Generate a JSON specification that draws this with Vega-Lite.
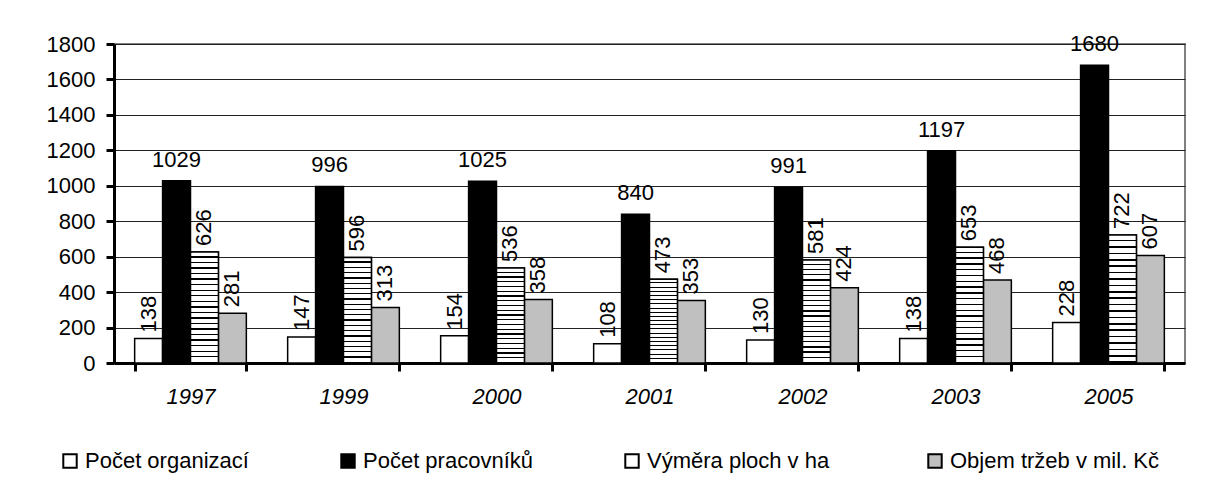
{
  "$schema": "https://vega.github.io/schema/vega-lite/v6.json",
  "width": 1071,
  "height": 319,
  "autosize": {"type": "none"},
  "padding": {"left": 114, "top": 44, "right": 28, "bottom": 140},
  "background": "white",
  "config": {
    "font": "Liberation Sans",
    "view": {"stroke": "#808080", "strokeWidth": 2}
  },
  "data": {
    "values": [
      {"year": "1997", "series": "Počet organizací", "value": 138},
      {"year": "1997", "series": "Počet pracovníků", "value": 1029},
      {"year": "1997", "series": "Výměra ploch  v ha", "value": 626},
      {"year": "1997", "series": "Objem tržeb v mil. Kč", "value": 281},
      {"year": "1999", "series": "Počet organizací", "value": 147},
      {"year": "1999", "series": "Počet pracovníků", "value": 996},
      {"year": "1999", "series": "Výměra ploch  v ha", "value": 596},
      {"year": "1999", "series": "Objem tržeb v mil. Kč", "value": 313},
      {"year": "2000", "series": "Počet organizací", "value": 154},
      {"year": "2000", "series": "Počet pracovníků", "value": 1025},
      {"year": "2000", "series": "Výměra ploch  v ha", "value": 536},
      {"year": "2000", "series": "Objem tržeb v mil. Kč", "value": 358},
      {"year": "2001", "series": "Počet organizací", "value": 108},
      {"year": "2001", "series": "Počet pracovníků", "value": 840},
      {"year": "2001", "series": "Výměra ploch  v ha", "value": 473},
      {"year": "2001", "series": "Objem tržeb v mil. Kč", "value": 353},
      {"year": "2002", "series": "Počet organizací", "value": 130},
      {"year": "2002", "series": "Počet pracovníků", "value": 991},
      {"year": "2002", "series": "Výměra ploch  v ha", "value": 581},
      {"year": "2002", "series": "Objem tržeb v mil. Kč", "value": 424},
      {"year": "2003", "series": "Počet organizací", "value": 138},
      {"year": "2003", "series": "Počet pracovníků", "value": 1197},
      {"year": "2003", "series": "Výměra ploch  v ha", "value": 653},
      {"year": "2003", "series": "Objem tržeb v mil. Kč", "value": 468},
      {"year": "2005", "series": "Počet organizací", "value": 228},
      {"year": "2005", "series": "Počet pracovníků", "value": 1680},
      {"year": "2005", "series": "Výměra ploch  v ha", "value": 722},
      {"year": "2005", "series": "Objem tržeb v mil. Kč", "value": 607}
    ]
  },
  "encoding": {
    "x": {
      "field": "year", "type": "nominal", "title": null,
      "scale": {"paddingInner": 0.27, "paddingOuter": 0.135},
      "axis": {
        "labelAngle": 0, "labelFontSize": 22, "labelFontStyle": "italic", "labelColor": "black",
        "labelPadding": 15, "domainColor": "black", "domainWidth": 3,
        "tickBand": "extent", "tickSize": 8, "tickWidth": 3, "tickColor": "black"
      }
    },
    "xOffset": {
      "field": "series", "type": "nominal",
      "scale": {"domain": ["Počet organizací", "Počet pracovníků", "Výměra ploch  v ha", "Objem tržeb v mil. Kč"], "paddingInner": 0, "paddingOuter": 0}
    },
    "y": {
      "field": "value", "type": "quantitative", "title": null,
      "scale": {"domain": [0, 1800], "nice": false},
      "axis": {
        "values": [0, 200, 400, 600, 800, 1000, 1200, 1400, 1600, 1800],
        "format": "d",
        "labelFontSize": 22, "labelColor": "black", "labelPadding": 11,
        "domainColor": "black", "domainWidth": 3,
        "tickSize": 8, "tickWidth": 3, "tickColor": "black",
        "grid": true, "gridColor": "#222", "gridWidth": 1
      }
    }
  },
  "layer": [
    {
      "mark": {"type": "bar", "stroke": "black", "strokeWidth": 1.5},
      "encoding": {
        "fill": {
          "field": "series", "type": "nominal",
          "scale": {
            "domain": ["Počet organizací", "Počet pracovníků", "Výměra ploch  v ha", "Objem tržeb v mil. Kč"],
            "range": ["white", "black", "white", "#c0c0c0"]
          },
          "legend": {
            "title": null, "orient": "none", "direction": "horizontal",
            "legendX": -55, "legendY": 406,
            "symbolType": "square", "symbolSize": 180, "symbolStrokeColor": "black", "symbolStrokeWidth": 2,
            "symbolOpacity": 1,
            "labelFontSize": 22, "labelColor": "black", "labelOffset": 4, "labelLimit": 400,
            "columnPadding": 88
          }
        }
      }
    },
    {
      "transform": [{"filter": "datum.series === 'Výměra ploch  v ha'"}],
      "mark": {
        "type": "bar", "stroke": "black", "strokeWidth": 1.5,
        "fill": {
          "gradient": "linear", "x1": 0, "y1": 0, "x2": 0, "y2": 1,
          "stops": [
            {"offset": 0, "color": "white"}, {"offset": 0.038, "color": "white"}, {"offset": 0.038, "color": "black"}, {"offset": 0.05, "color": "black"},
            {"offset": 0.05, "color": "white"}, {"offset": 0.088, "color": "white"}, {"offset": 0.088, "color": "black"}, {"offset": 0.1, "color": "black"},
            {"offset": 0.1, "color": "white"}, {"offset": 0.138, "color": "white"}, {"offset": 0.138, "color": "black"}, {"offset": 0.15, "color": "black"},
            {"offset": 0.15, "color": "white"}, {"offset": 0.188, "color": "white"}, {"offset": 0.188, "color": "black"}, {"offset": 0.2, "color": "black"},
            {"offset": 0.2, "color": "white"}, {"offset": 0.238, "color": "white"}, {"offset": 0.238, "color": "black"}, {"offset": 0.25, "color": "black"},
            {"offset": 0.25, "color": "white"}, {"offset": 0.288, "color": "white"}, {"offset": 0.288, "color": "black"}, {"offset": 0.3, "color": "black"},
            {"offset": 0.3, "color": "white"}, {"offset": 0.338, "color": "white"}, {"offset": 0.338, "color": "black"}, {"offset": 0.35, "color": "black"},
            {"offset": 0.35, "color": "white"}, {"offset": 0.388, "color": "white"}, {"offset": 0.388, "color": "black"}, {"offset": 0.4, "color": "black"},
            {"offset": 0.4, "color": "white"}, {"offset": 0.438, "color": "white"}, {"offset": 0.438, "color": "black"}, {"offset": 0.45, "color": "black"},
            {"offset": 0.45, "color": "white"}, {"offset": 0.488, "color": "white"}, {"offset": 0.488, "color": "black"}, {"offset": 0.5, "color": "black"},
            {"offset": 0.5, "color": "white"}, {"offset": 0.538, "color": "white"}, {"offset": 0.538, "color": "black"}, {"offset": 0.55, "color": "black"},
            {"offset": 0.55, "color": "white"}, {"offset": 0.588, "color": "white"}, {"offset": 0.588, "color": "black"}, {"offset": 0.6, "color": "black"},
            {"offset": 0.6, "color": "white"}, {"offset": 0.638, "color": "white"}, {"offset": 0.638, "color": "black"}, {"offset": 0.65, "color": "black"},
            {"offset": 0.65, "color": "white"}, {"offset": 0.688, "color": "white"}, {"offset": 0.688, "color": "black"}, {"offset": 0.7, "color": "black"},
            {"offset": 0.7, "color": "white"}, {"offset": 0.738, "color": "white"}, {"offset": 0.738, "color": "black"}, {"offset": 0.75, "color": "black"},
            {"offset": 0.75, "color": "white"}, {"offset": 0.788, "color": "white"}, {"offset": 0.788, "color": "black"}, {"offset": 0.8, "color": "black"},
            {"offset": 0.8, "color": "white"}, {"offset": 0.838, "color": "white"}, {"offset": 0.838, "color": "black"}, {"offset": 0.85, "color": "black"},
            {"offset": 0.85, "color": "white"}, {"offset": 0.888, "color": "white"}, {"offset": 0.888, "color": "black"}, {"offset": 0.9, "color": "black"},
            {"offset": 0.9, "color": "white"}, {"offset": 0.938, "color": "white"}, {"offset": 0.938, "color": "black"}, {"offset": 0.95, "color": "black"},
            {"offset": 0.95, "color": "white"}, {"offset": 0.988, "color": "white"}, {"offset": 0.988, "color": "black"}, {"offset": 1, "color": "black"}
          ]
        }
      },
      "encoding": {}
    },
    {
      "transform": [{"filter": "datum.series === 'Počet pracovníků'"}],
      "mark": {"type": "text", "fontSize": 22, "color": "black", "baseline": "alphabetic", "dy": -14},
      "encoding": {"text": {"field": "value", "type": "quantitative"}}
    },
    {
      "transform": [{"filter": "datum.series !== 'Počet pracovníků'"}],
      "mark": {"type": "text", "fontSize": 22, "color": "black", "angle": 270, "align": "left", "baseline": "middle", "dx": 6},
      "encoding": {"text": {"field": "value", "type": "quantitative"}}
    }
  ]
}
